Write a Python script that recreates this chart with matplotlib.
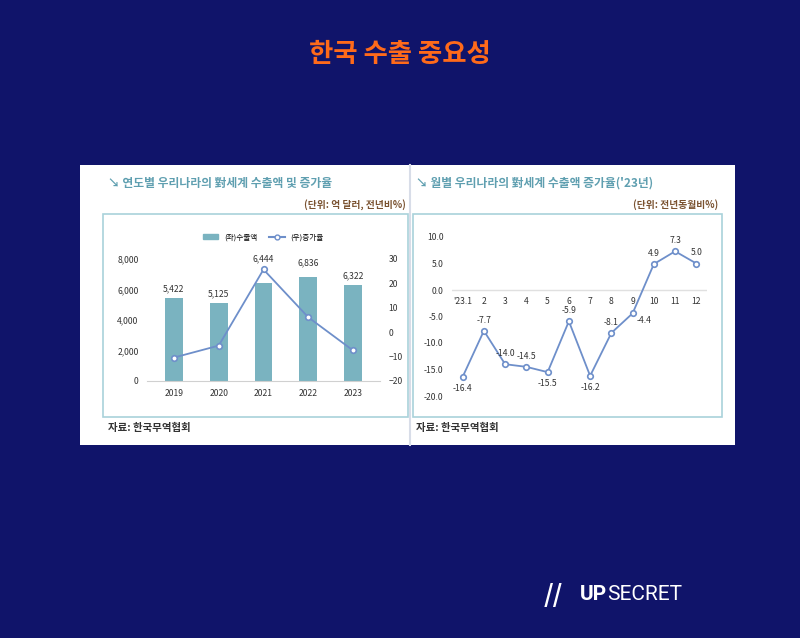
import matplotlib
matplotlib.use("Agg")
import matplotlib.pyplot as plt
from matplotlib.patches import Rectangle, Patch
from matplotlib.lines import Line2D

plt.rcParams['font.family'] = ['Noto Sans CJK KR', 'DejaVu Sans']

years = ['2019', '2020', '2021', '2022', '2023']
exports = [5422, 5125, 6444, 6836, 6322]
growth = [-10.4, -5.5, 25.7, 6.1, -7.5]
months = ["'23.1", '2', '3', '4', '5', '6', '7', '8', '9', '10', '11', '12']
mgrowth = [-16.4, -7.7, -14.0, -14.5, -15.5, -5.9, -16.2, -8.1, -4.4, 4.9, 7.3, 5.0]

W, H = 800, 638
NAVY = '#10146a'
BAR = '#7ab3c0'
LINE = '#6e8fca'
TTL = '#5f9fb0'
UNIT = '#7a5230'
BOX = '#a9d2da'

fig = plt.figure(figsize=(8, 6.38), dpi=100, facecolor=NAVY)

def fx(x): return x / W
def fy(y): return 1 - y / H
def rect(x0, y0, x1, y1):
    return [fx(x0), fy(y1), fx(x1 - x0), fy(y0) - fy(y1)]

fig.text(0.5, fy(55), '한국 수출 중요성', color='#ff6a1a', fontsize=19,
         fontweight='bold', ha='center', va='center')

# card
fig.patches.append(Rectangle((fx(80), fy(445)), fx(655), fy(165) - fy(445),
                             transform=fig.transFigure, facecolor='white', edgecolor='none', zorder=-5))
fig.lines.append(Line2D([fx(410), fx(410)], [fy(165), fy(445)], transform=fig.transFigure,
                        color='#d8dde8', lw=1.5, zorder=-4))
for (x0, x1) in [(103, 408), (413, 722)]:
    fig.patches.append(Rectangle((fx(x0), fy(417)), fx(x1 - x0), fy(214) - fy(417),
                                 transform=fig.transFigure, facecolor='none', edgecolor=BOX, lw=1.2, zorder=-4))

fig.text(fx(108), fy(183), '↘ 연도별 우리나라의 對세계 수출액 및 증가율', color=TTL, fontsize=8.5,
         fontweight='bold', va='center')
fig.text(fx(406), fy(205), '(단위: 억 달러, 전년비%)', color=UNIT, fontsize=7, fontweight='bold',
         va='center', ha='right')
fig.text(fx(416), fy(183), '↘ 월별 우리나라의 對세계 수출액 증가율(\'23년)', color=TTL, fontsize=8.5,
         fontweight='bold', va='center')
fig.text(fx(718), fy(205), '(단위: 전년동월비%)', color=UNIT, fontsize=7, fontweight='bold',
         va='center', ha='right')
fig.text(fx(108), fy(428), '자료: 한국무역협회', color='#333333', fontsize=7.5, fontweight='bold', va='center')
fig.text(fx(416), fy(428), '자료: 한국무역협회', color='#333333', fontsize=7.5, fontweight='bold', va='center')

# left chart
ax = fig.add_axes(rect(147, 259, 380, 381), zorder=2)
x = list(range(len(years)))
ax.bar(x, exports, width=0.4, color=BAR, zorder=2)
ax.set_ylim(0, 8000)
ax.set_xlim(-0.6, 4.6)
ax.set_yticks([0, 2000, 4000, 6000, 8000])
ax.set_yticklabels(['0', '2,000', '4,000', '6,000', '8,000'])
ax.set_xticks(x)
ax.set_xticklabels(years)
ax2 = ax.twinx()
ax2.plot(x, growth, color=LINE, marker='o', ms=4, mfc='white', mec=LINE, mew=1.2, lw=1.3)
ax2.set_ylim(-20, 30)
ax2.set_yticks([-20, -10, 0, 10, 20, 30])
for i, v in enumerate(exports):
    off = {2: 1300, 3: 650}.get(i, 300)
    ax2.text(i, v + off, f'{v:,}', ha='center', va='bottom', fontsize=6.2, color='#333333',
             transform=ax.transData, clip_on=False)
for a in (ax, ax2):
    a.set_facecolor('none')
    for s in a.spines.values():
        s.set_visible(False)
    a.tick_params(length=0, labelsize=6.2, colors='#333333', pad=6)
ax.spines['bottom'].set_visible(True)
ax.spines['bottom'].set_color('#d0d0d0')
ax2.legend([Patch(color=BAR), Line2D([], [], color=LINE, marker='o', mfc='white', ms=3.5)],
           ['(좌)수출액', '(우)증가율'], loc='lower center', bbox_to_anchor=(0.5, 1.12), ncol=2,
           frameon=False, fontsize=5.5, handlelength=2, handleheight=0.5, columnspacing=1.5, borderaxespad=0)

# right chart
bx = fig.add_axes(rect(452, 237, 707, 396), zorder=2)
mx = list(range(len(months)))
bx.axhline(0, color='#e0e0e0', lw=1, zorder=1)
bx.plot(mx, mgrowth, color=LINE, marker='o', ms=4, mfc='white', mec=LINE, mew=1.2, lw=1.3, zorder=3)
bx.set_ylim(-20, 10)
bx.set_xlim(-0.5, 11.5)
bx.set_yticks([-20, -15, -10, -5, 0, 5, 10])
bx.set_yticklabels(['-20.0', '-15.0', '-10.0', '-5.0', '0.0', '5.0', '10.0'])
bx.set_xticks([])
for i, m in enumerate(months):
    bx.text(i, -2.2, m, ha='center', va='center', fontsize=6.2, color='#333333')
below = {0, 4, 6}
for i, v in enumerate(mgrowth):
    if i == 8:
        bx.text(i + 0.55, v - 1.4, f'{v:.1f}', ha='center', va='center', fontsize=6.2, color='#333333')
    elif i in below:
        bx.text(i, v - 2.2, f'{v:.1f}', ha='center', va='center', fontsize=6.2, color='#333333')
    else:
        bx.text(i, v + 2.0, f'{v:.1f}', ha='center', va='center', fontsize=6.2, color='#333333')
bx.set_facecolor('none')
for s in bx.spines.values():
    s.set_visible(False)
bx.tick_params(length=0, labelsize=6.2, colors='#333333', pad=6)

# logo
fig.text(fx(553), fy(595), '//', color='white', fontsize=18, fontweight='bold', va='center', ha='center',
         style='italic')
fig.text(fx(580), fy(595), 'UP', color='white', fontsize=15, fontweight='bold', va='center',
         family=['Roboto', 'DejaVu Sans'])
fig.text(fx(607), fy(595), 'SECRET', color='white', fontsize=15, va='center',
         family=['Roboto', 'DejaVu Sans'])

fig.savefig('out.png', dpi=100, facecolor=NAVY)
